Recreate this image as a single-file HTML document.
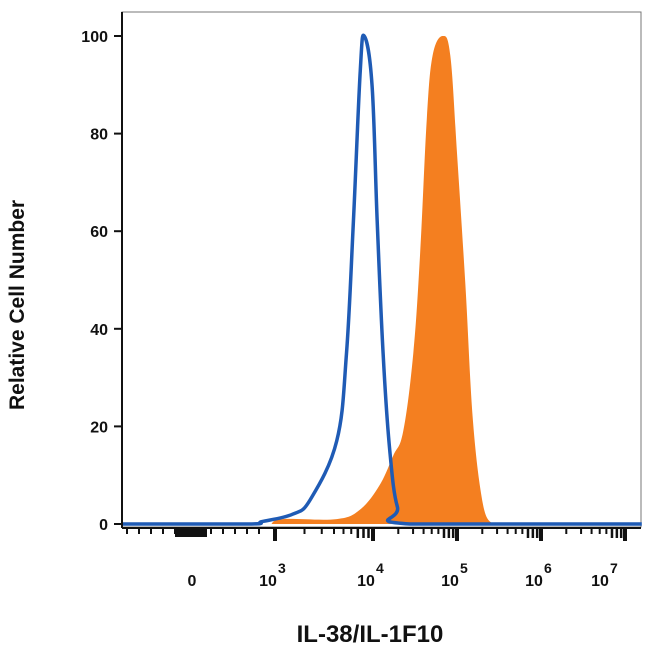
<!DOCTYPE html>
<html><head><meta charset="utf-8"><style>
body{margin:0;background:#fff;width:650px;height:650px;overflow:hidden}
svg{display:block}
text{font-family:"Liberation Sans",sans-serif;font-weight:bold;fill:#111}
</style></head><body>
<svg id="chart" width="650" height="650">
<rect x="122" y="12" width="519" height="515" fill="none" stroke="#777" stroke-width="1"/>
<g id="series"></g>
<g id="axes"></g>
<text x="0" y="0" transform="translate(24,305) rotate(-90)" text-anchor="middle" font-size="21">Relative Cell Number</text>
<text x="370" y="642" text-anchor="middle" font-size="24">IL-38/IL-1F10</text>
</svg>
<script>
// x values in log10(intensity) units, y in % of max
const blueX=[1.0,2.64,2.83,3.18,3.36,3.63,3.73,3.80,3.87,3.91,3.99,4.05,4.12,4.20,4.29,4.44,7.2];
const blueY=[0,0,0.5,2,5,17,35,62,93,100,90,62,35,15,3.5,0,0];
const orangeX=[2.95,3.08,3.63,3.87,4.08,4.24,4.36,4.48,4.56,4.64,4.71,4.83,4.92,5.0,5.10,5.19,5.31,5.42];
const orangeY=[0,1,1,3,8,14,19,35,55,83,96,100,96,76,49,21,4,0];
const yTicks=[0,20,40,60,80,100];
const xMajor=[3,4,5,6,7];
const xMajorLabels=["3","4","5","6","7"];

const NS="http://www.w3.org/2000/svg";
const decPx={3:275,4:373,5:457,6:541,7:625};
function xScale(v){
  if(v<=3) return 190+v*(275-190)/3;
  const d=Math.floor(v); if(d>=7) return 625+(v-7)*84;
  return decPx[d]+(v-d)*(decPx[d+1]-decPx[d]);
}
function xLow(v){return v<=3? 122+(v-1)*(275-122)/2 : xScale(v);}
function yScale(p){return 524-p*4.88;}
function mk(tag,attrs,parent){const e=document.createElementNS(NS,tag);for(const k in attrs)e.setAttribute(k,attrs[k]);parent.appendChild(e);return e;}
function smooth(pts){
  let d="M"+pts[0][0].toFixed(1)+","+pts[0][1].toFixed(1);
  for(let i=0;i<pts.length-1;i++){
    const p0=pts[Math.max(0,i-1)],p1=pts[i],p2=pts[i+1],p3=pts[Math.min(pts.length-1,i+2)];
    const t=0.18;
    let c1x=p1[0]+(p2[0]-p0[0])*t,c1y=p1[1]+(p2[1]-p0[1])*t;
    let c2x=p2[0]-(p3[0]-p1[0])*t,c2y=p2[1]-(p3[1]-p1[1])*t;
    c1y=Math.min(c1y,524);c2y=Math.min(c2y,524);
    d+=" C"+c1x.toFixed(1)+","+c1y.toFixed(1)+" "+c2x.toFixed(1)+","+c2y.toFixed(1)+" "+p2[0].toFixed(1)+","+p2[1].toFixed(1);
  }
  return d;
}
const S=document.getElementById('series'),A=document.getElementById('axes');

const oPts=orangeX.map((v,i)=>[xLow(v),yScale(orangeY[i])]);
const o=mk('path',{d:smooth(oPts)+" Z",fill:'#f47f20',stroke:'none'},S);


const bPts=blueX.map((v,i)=>[v<=1.0?122:xLow(v),yScale(blueY[i])]);
const b=mk('path',{d:smooth(bPts),fill:'none',stroke:'#1f5bb5','stroke-width':3.5,'stroke-linejoin':'round'},S);



mk('line',{x1:122,y1:12,x2:122,y2:528,stroke:'#111','stroke-width':2},A);
yTicks.forEach(t=>{
  const y=yScale(t);
  mk('line',{x1:114,y1:y,x2:122,y2:y,stroke:'#111','stroke-width':2},A);
  const tx=mk('text',{x:108,y:y+6,'text-anchor':'end','font-size':16},A);
  tx.textContent=t;
  
  
});
mk('line',{x1:122,y1:528,x2:641,y2:528,stroke:'#111','stroke-width':2},A);
for(let x=127;x<270;x+=12){mk('line',{x1:x,y1:528,x2:x,y2:534,stroke:'#111','stroke-width':2},A);}
mk('rect',{x:175,y:528,width:32,height:9,fill:'#111'},A);
for(let dd=3;dd<7;dd++){for(let m=2;m<10;m++){const x=xScale(dd+Math.log10(m));mk('line',{x1:x,y1:528,x2:x,y2:m>6?538:534,stroke:'#111','stroke-width':m>6?2.5:2},A);}}
xMajor.forEach((v,i)=>{
  const x=xScale(v);
  mk('line',{x1:x,y1:528,x2:x,y2:541,stroke:'#111','stroke-width':4},A);
  const lx=v===7?x-18:x;
  const t=mk('text',{x:lx-7,y:586,'text-anchor':'middle','font-size':16},A);
  t.textContent="10";
  
  
  const s=mk('text',{x:lx+3,y:573,'text-anchor':'start','font-size':14},A);
  s.textContent=xMajorLabels[i];
  
  
});
const z=mk('text',{x:192,y:586,'text-anchor':'middle','font-size':16},A);
z.textContent="0";


</script>
</body></html>
